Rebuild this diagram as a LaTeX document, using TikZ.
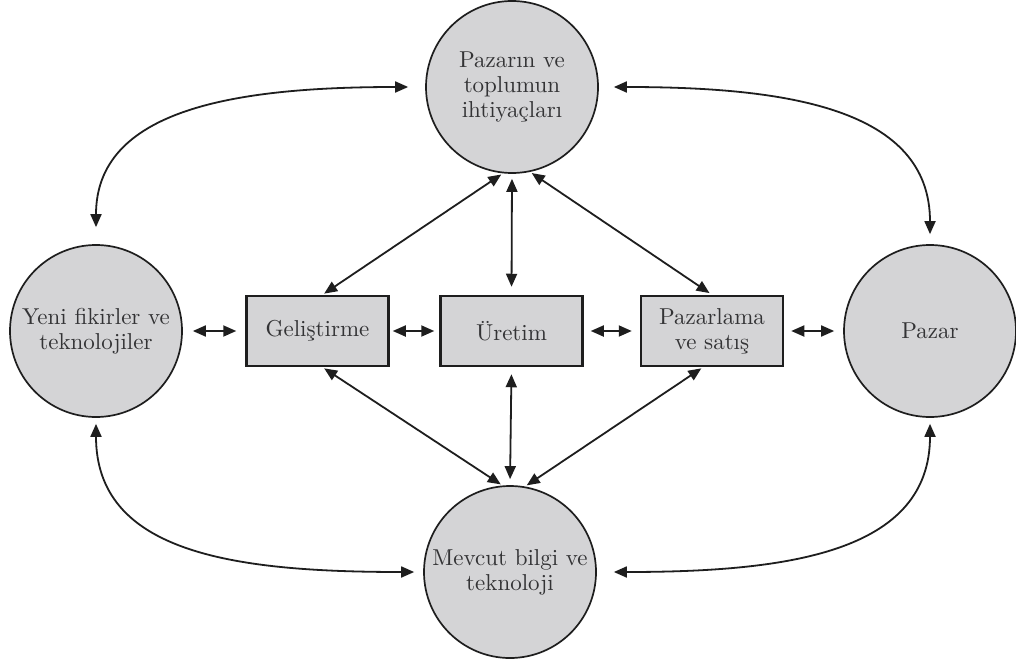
\documentclass[tikz,border=0pt]{standalone}
\usepackage{fontspec}
\usetikzlibrary{arrows.meta}

% 10pt design size of Latin Modern, used large for the labels
\newfontfamily\labelfamily{lmroman10-regular}[Extension=.otf]

\definecolor{nodefill}{HTML}{D4D4D6}
\definecolor{inkgray}{HTML}{333335}
\definecolor{linegray}{HTML}{1E1E1E}

\begin{document}
\begin{tikzpicture}[x=1pt,y=-1pt,
  labelfont/.style={text=inkgray, font=\labelfamily\fontsize{23}{25}\selectfont},
  hub/.style={circle, draw=linegray, line width=1.7pt, fill=nodefill,
    minimum size=172pt, inner sep=0pt, align=center, labelfont},
  stage/.style={rectangle, draw=linegray, line width=2.5pt, fill=nodefill,
    minimum width=142pt, minimum height=70pt, inner sep=0pt, align=center, labelfont},
  link/.style={draw=linegray, line width=1.8pt,
    {Triangle[length=13pt,width=11pt]}-{Triangle[length=13pt,width=11pt]}}
]
\useasboundingbox (0,0) rectangle (1016,666);
\fill[white] (0,0) rectangle (1016,666);

% outer circles
\node[hub] (T) at (512,87)  {Pazarın ve\\toplumun\\ihtiyaçları};
\node[hub] (L) at (96,331)  {Yeni fikirler ve\\teknolojiler};
\node[hub] (R) at (930,331) {Pazar};
\node[hub] (B) at (510,572) {Mevcut bilgi ve\\teknoloji};

% inner process stages
\node[stage] (G) at (317.5,331) {Geliştirme};
\node[stage] (U) at (511.5,331) {Üretim};
\node[stage] (P) at (712,331)   {Pazarlama\\ve satış};

% horizontal chain
\draw[link, shorten <=10pt, shorten >=9pt] (L.east) -- (G.west);
\draw[link, shorten <=3pt, shorten >=5pt]  (G.east) -- (U.west);
\draw[link, shorten <=7pt, shorten >=8pt]  (U.east) -- (P.west);
\draw[link, shorten <=7pt, shorten >=9pt]  (P.east) -- (R.west);

% links to the needs circle
\draw[link, shorten <=2pt, shorten >=2pt] ([xshift=5pt]G.north) -- (T.264);
\draw[link, shorten <=8pt, shorten >=5pt] (U.north) -- (T.south);
\draw[link, shorten <=3pt, shorten >=2pt] (P.north) -- (T.282);

% links to the knowledge circle
\draw[link, shorten <=2pt, shorten >=2pt] ([xshift=5pt]G.south) -- (B.95);
\draw[link, shorten <=7pt, shorten >=6pt] (U.south) -- (B.north);
\draw[link, shorten <=2pt, shorten >=2pt] ([xshift=-9pt]P.south) -- (B.80);

% outer curved links
\draw[link, shorten <=17pt, shorten >=17pt]
  (L.north) .. controls +(0,-135) and +(-190,0) .. (T.west);
\draw[link, shorten <=15pt, shorten >=10pt]
  (T.east) .. controls +(190,0) and +(0,-135) .. (R.north);
\draw[link, shorten <=6pt, shorten >=9pt]
  (L.south) .. controls +(0,135) and +(-190,0) .. (B.west);
\draw[link, shorten <=17pt, shorten >=6pt]
  (B.east) .. controls +(190,0) and +(0,135) .. (R.south);
\end{tikzpicture}
\end{document}
